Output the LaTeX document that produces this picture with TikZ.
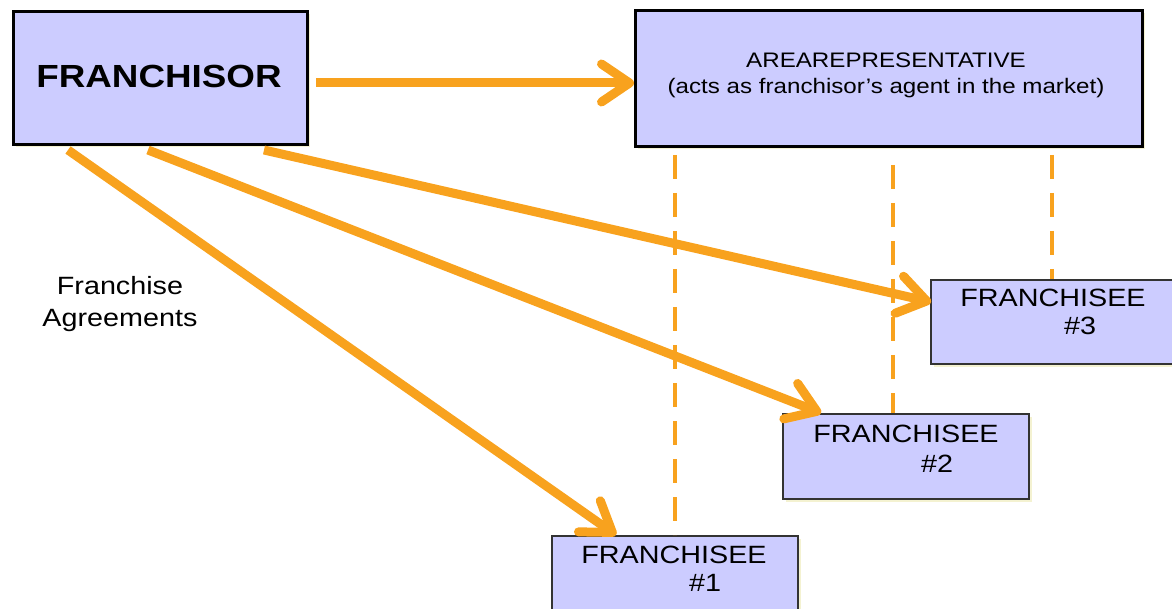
\documentclass[tikz,border=0pt]{standalone}
\usepackage{fontspec}
\setmainfont{Liberation Sans}[FakeStretch=1.15]
\usetikzlibrary{arrows.meta,shadows,positioning}
\definecolor{boxfill}{RGB}{204,204,255}
\definecolor{arrorange}{RGB}{248,162,30}
\begin{document}
\begin{tikzpicture}[x=1pt,y=-1pt,
  mainbox/.style={draw=black,line width=2.8pt,fill=boxfill,rectangle,inner sep=0pt,anchor=north west,
    drop shadow={shadow xshift=3pt,shadow yshift=-3pt,fill=black!25!yellow!40,opacity=0.5}},
  subbox/.style={draw=black!80,line width=1.6pt,fill=boxfill,rectangle,inner sep=0pt,anchor=north west,
    drop shadow={shadow xshift=3pt,shadow yshift=-3pt,fill=black!25!yellow!40,opacity=0.5}},
  agree/.style={draw=arrorange,line width=9pt,-{Straight Barb[length=28pt,width=38pt,round]}},
  repline/.style={draw=arrorange,line width=3.5pt,dash pattern=on 24pt off 14pt},
  subtxt/.style={font=\fontsize{25}{28}\selectfont,inner sep=0pt,anchor=base}
]
\useasboundingbox (0,0) rectangle (1172,609);

% boxes
\node[mainbox,minimum width=294pt,minimum height=133pt] (fr) at (12,10) {};
\node[font=\fontsize{32}{34}\bfseries\selectfont] (frt) at (159,76) {FRANCHISOR};

\node[mainbox,minimum width=507pt,minimum height=136pt] (ar) at (634,9) {};
\node[font=\fontsize{21}{26}\selectfont,align=center,inner sep=0pt] (art) at (886,75)
  {AREAREPRESENTATIVE\\(acts as franchisor's agent in the market)};

\node[subbox,minimum width=260pt,minimum height=84pt] (f3) at (930,279) {};
\node[subtxt] (f3a) at (1053,307) {FRANCHISEE};
\node[subtxt] (f3b) at (1080,335) {\#3};

\node[subbox,minimum width=246pt,minimum height=85pt] (f2) at (782,413) {};
\node[subtxt] (f2a) at (906,442) {FRANCHISEE};
\node[subtxt] (f2b) at (937,472) {\#2};

\node[subbox,minimum width=246pt,minimum height=90pt] (f1) at (551,535) {};
\node[subtxt] (f1a) at (674,563) {FRANCHISEE};
\node[subtxt] (f1b) at (705,591) {\#1};

\node[font=\fontsize{25}{32}\selectfont,align=center,inner sep=0pt] (fa) at (120,304)
  {Franchise\\Agreements};

% dashed lines from area representative
\coordinate (d1t) at (675,155);
\coordinate (d1b) at (675,535);
\coordinate (d2t) at (893,165);
\coordinate (d2b) at (893,413);
\coordinate (d3t) at (1052,155);
\coordinate (d3b) at (1052,279);
\draw[repline] (d1t) -- (d1b);
\draw[repline] (d2t) -- (d2b);
\draw[repline] (d3t) -- (d3b);

% arrows
\coordinate (a0s) at (316,83);
\coordinate (a0e) at (634,83);
\draw[agree] (a0s) -- (a0e);

\coordinate (a1s) at (68,150);
\coordinate (a1e) at (616,535);
\draw[agree] (a1s) -- (a1e);

\coordinate (a2s) at (148,150);
\coordinate (a2e) at (821,413);
\draw[agree] (a2s) -- (a2e);

\coordinate (a3s) at (264,150);
\coordinate (a3e) at (931,302);
\draw[agree] (a3s) -- (a3e);
\end{tikzpicture}
\end{document}
